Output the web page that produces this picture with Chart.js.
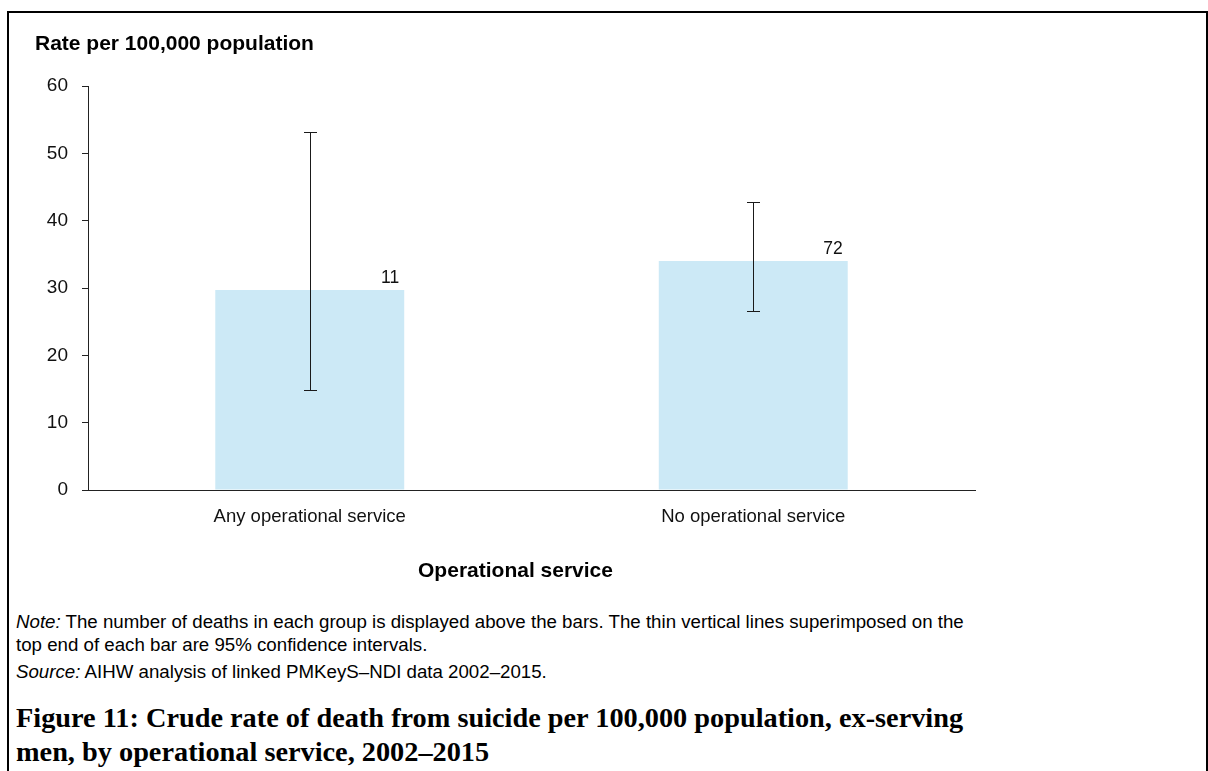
<!DOCTYPE html>
<html>
<head>
<meta charset="utf-8">
<script src="https://cdn.jsdelivr.net/npm/chart.js@4"></script>
<style>
  html, body { margin: 0; padding: 0; background: #fff; width: 1208px; height: 771px; overflow: hidden; }
  #frame { position: absolute; left: 7px; top: 11px; width: 1197px; height: 800px; border: 2px solid #000; border-bottom: none; }
  #wrap { position: absolute; left: 0; top: 0; width: 1208px; height: 600px; }
  .t { position: absolute; font-family: "Liberation Sans", Arial, sans-serif; color: #000; white-space: nowrap; line-height: 1.2; }
  #ytitle { left: 35px; top: 30px; font-size: 21px; font-weight: bold; }
  .note { left: 16px; font-size: 18.7px; }
  .cap { left: 16px; font-family: "Liberation Serif", "Times New Roman", serif; font-weight: bold; font-size: 28.3px; }
</style>
</head>
<body>
<div id="frame"></div>
<div id="wrap"><canvas id="c"></canvas></div>
<div class="t" id="ytitle">Rate per 100,000 population</div>
<div class="t note" style="top:611px"><i>Note:</i> The number of deaths in each group is displayed above the bars. The thin vertical lines superimposed on the</div>
<div class="t note" style="top:634px">top end of each bar are 95% confidence intervals.</div>
<div class="t note" style="top:661px"><i>Source:</i> AIHW analysis of linked PMKeyS–NDI data 2002–2015.</div>
<div class="t cap" style="top:701px">Figure 11: Crude rate of death from suicide per 100,000 population, ex-serving</div>
<div class="t cap" style="top:735px">men, by operational service, 2002–2015</div>
<script>
const categories = ["Any operational service", "No operational service"];
const rates = [29.7, 34.0];
const ciLow = [14.9, 26.6];
const ciHigh = [53.1, 42.8];
const deaths = [11, 72];
const yTicks = [0, 10, 20, 30, 40, 50, 60];
const xAxisTitle = "Operational service";

const errorBars = {
  id: 'errorBars',
  afterDatasetsDraw(chart) {
    const ctx = chart.ctx;
    const meta = chart.getDatasetMeta(0);
    const y = chart.scales.y;
    ctx.save();
    ctx.strokeStyle = '#1a1a1a';
    ctx.lineWidth = 1;
    meta.data.forEach((bar, i) => {
      const x = Math.round(bar.x) + 0.5;
      const yh = Math.round(y.getPixelForValue(ciHigh[i])) + 0.5;
      const yl = Math.round(y.getPixelForValue(ciLow[i])) + 0.5;
      ctx.beginPath();
      ctx.moveTo(x, yh); ctx.lineTo(x, yl);
      ctx.moveTo(x - 6.5, yh); ctx.lineTo(x + 6.5, yh);
      ctx.moveTo(x - 6.5, yl); ctx.lineTo(x + 6.5, yl);
      ctx.stroke();
    });
    ctx.fillStyle = '#111';
    ctx.font = '17.5px "Liberation Sans", Arial, sans-serif';
    ctx.textAlign = 'right';
    ctx.textBaseline = 'bottom';
    meta.data.forEach((bar, i) => {
      ctx.fillText(String(deaths[i]), bar.x + bar.width / 2 - 5, bar.y - 3);
    });
    // x-axis title (slightly left of centre, as in the source figure)
    const ca = chart.chartArea;
    ctx.fillStyle = '#000';
    ctx.font = 'bold 21px "Liberation Sans", Arial, sans-serif';
    ctx.textAlign = 'center';
    ctx.textBaseline = 'middle';
    ctx.fillText(xAxisTitle, (ca.left + ca.right) / 2 - 16, ca.bottom + 81);
    ctx.restore();
  }
};

new Chart(document.getElementById('c'), {
  type: 'bar',
  data: {
    labels: categories,
    datasets: [{
      data: rates,
      backgroundColor: '#cce9f6',
      borderWidth: 0,
      categoryPercentage: 1,
      barPercentage: 0.426
    }]
  },
  options: {
    responsive: true,
    maintainAspectRatio: false,
    animation: false,
    layout: { padding: { left: 0, top: 86, right: 233, bottom: 0 } },
    plugins: { legend: { display: false }, tooltip: { enabled: false } },
    scales: {
      x: {
        grid: { display: true, drawOnChartArea: false, drawTicks: false },
        border: { display: true, color: '#222', width: 1 },
        ticks: { color: '#111', padding: 16, font: { family: '"Liberation Sans", Arial, sans-serif', size: 18.5 } },
        title: { display: false },
        afterFit(scale) { scale.height = 110; }
      },
      y: {
        min: 0, max: 60,
        afterBuildTicks(scale) { scale.ticks = yTicks.map(v => ({ value: v })); },
        grid: { display: true, drawOnChartArea: false, drawTicks: true, tickLength: 6, tickColor: '#222' },
        border: { display: true, color: '#222', width: 1 },
        ticks: { color: '#111', padding: 14, font: { family: '"Liberation Sans", Arial, sans-serif', size: 19 } },
        afterFit(scale) { scale.width = 88; }
      }
    }
  },
  plugins: [errorBars]
});
</script>
</body>
</html>
